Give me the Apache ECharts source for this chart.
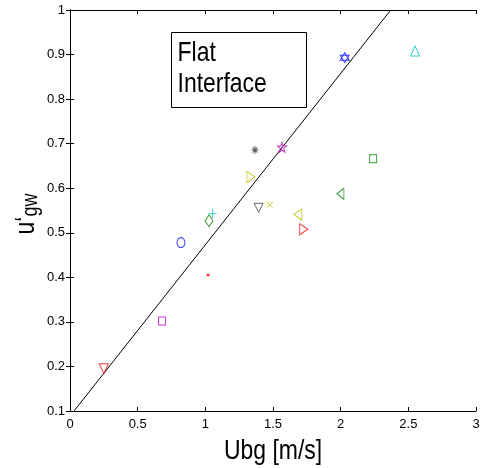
<!DOCTYPE html>
<html>
<head>
<meta charset="utf-8">
<title>Flat Interface</title>
<script src="https://cdn.jsdelivr.net/npm/echarts@6/dist/echarts.min.js"></script>
<style>
  html, body { margin: 0; padding: 0; background: #fff; }
  #chart { width: 480px; height: 468px; }
</style>
</head>
<body>
<div id="chart"></div>
<script>
// Measured runs: background velocity vs. normalised gas-wall velocity
const ubg = [0.25, 0.68, 1.02, 0.82, 1.027, 1.054, 1.367, 1.567, 1.337, 1.394, 1.476, 1.683, 1.727, 1.998, 2.24, 2.03, 2.55];
const ugw = [0.195, 0.302, 0.405, 0.478, 0.527, 0.5425, 0.686, 0.692, 0.625, 0.556, 0.563, 0.541, 0.508, 0.5875, 0.666, 0.893, 0.908];

// Reference line end points
const lineX = [0.03, 2.37];
const lineY = [0.1, 1.0];

// Axis ticks
const xTicks = [0, 0.5, 1, 1.5, 2, 2.5, 3];
const yTicks = [0.1, 0.2, 0.3, 0.4, 0.5, 0.6, 0.7, 0.8, 0.9, 1];

// Texts
const xTitle = 'Ubg [m/s]';
const yTitleMain = 'u\u2018';
const yTitleSub = 'gw';
const noteLines = ['Flat', 'Interface'];

// Marker shapes (outline paths)
const SYM = {
  up: 'path://M5,0 L10,10 L0,10 Z',
  down: 'path://M0,0 L10,0 L5,10 Z',
  left: 'path://M0,5 L10,0 L10,10 Z',
  right: 'path://M0,0 L10,5 L0,10 Z',
  plus: 'path://M5,0 L5,10 M0,5 L10,5',
  cross: 'path://M0,0 L10,10 M10,0 L0,10',
  star: 'path://M5,0 L5,10 M0,5 L10,5 M1.5,1.5 L8.5,8.5 M8.5,1.5 L1.5,8.5',
  pentagram: 'path://M5,0 L6.18,3.62 L10,3.62 L6.91,5.86 L8.09,9.51 L5,7.27 L1.91,9.51 L3.09,5.86 L0,3.62 L3.82,3.62 Z',
  hexagram: 'path://M5,0 L9.33,7.5 L0.67,7.5 Z M5,10 L0.67,2.5 L9.33,2.5 Z',
  square: 'rect',
  circle: 'circle',
  diamond: 'diamond',
  dot: 'circle'
};

const C = {
  r: '#ff0000', g: '#008000', b: '#0000ff', c: '#00bfbf',
  m: '#bf00bf', y: '#bfbf00', k: '#404040'
};

// One style per point: [shape, colour, width, height]
const markerStyles = [
  ['down', C.r, 9, 10],
  ['square', C.m, 7, 8],
  ['dot', C.r, 3, 3],
  ['circle', C.b, 8, 10],
  ['diamond', C.g, 8, 12],
  ['plus', C.c, 8, 9],
  ['star', C.k, 7, 8],
  ['pentagram', C.m, 9, 10],
  ['right', C.y, 8, 11],
  ['down', C.k, 9, 9],
  ['cross', C.y, 6, 6],
  ['left', C.y, 8, 11],
  ['right', C.r, 8, 11],
  ['left', C.g, 7, 11],
  ['square', C.g, 7, 8],
  ['hexagram', C.b, 9, 10],
  ['up', C.c, 9, 10]
];

const FONT = "'Liberation Sans', Arial, Helvetica, sans-serif";
const NARROW = 0.82; // horizontal squeeze for a condensed Helvetica look

const pointSeries = ubg.map((x, i) => {
  const [shape, color, w, h] = markerStyles[i];
  const filled = shape === 'dot';
  return {
    type: 'scatter',
    data: [[x, ugw[i]]],
    symbol: SYM[shape],
    symbolSize: [w, h],
    silent: true,
    z: 5,
    itemStyle: {
      color: filled ? color : 'rgba(0,0,0,0)',
      borderColor: color,
      borderWidth: filled ? 0 : 1
    }
  };
});

const frameAxis = {
  axisLine: { show: true, lineStyle: { color: '#000', width: 1 } },
  axisTick: { show: true, inside: true, length: 4, lineStyle: { color: '#000' } },
  splitLine: { show: false }
};

const chart = echarts.init(document.getElementById('chart'), null, { renderer: 'canvas' });

chart.setOption({
  animation: false,
  backgroundColor: '#fff',
  textStyle: { fontFamily: FONT, color: '#000' },
  grid: { left: 70, top: 10, width: 406, height: 401, containLabel: false, outerBoundsMode: 'none' },
  xAxis: [
    Object.assign({}, frameAxis, {
      type: 'value', min: xTicks[0], max: xTicks[xTicks.length - 1], interval: 0.5,
      position: 'bottom',
      axisLabel: { fontSize: 13, color: '#000', fontFamily: FONT, margin: 7 }
    }),
    Object.assign({}, frameAxis, {
      type: 'value', min: xTicks[0], max: xTicks[xTicks.length - 1], interval: 0.5,
      position: 'top', axisLabel: { show: false }
    })
  ],
  yAxis: [
    Object.assign({}, frameAxis, {
      type: 'value', min: yTicks[0], max: yTicks[yTicks.length - 1], interval: 0.1,
      position: 'left',
      axisLabel: { fontSize: 13, color: '#000', fontFamily: FONT, margin: 5 }
    }),
    Object.assign({}, frameAxis, {
      type: 'value', min: yTicks[0], max: yTicks[yTicks.length - 1], interval: 0.1,
      position: 'right', axisLabel: { show: false }
    })
  ],
  graphic: [
    // x axis title
    {
      type: 'text', x: 273, y: 437, scaleX: NARROW, z: 11,
      style: { text: xTitle, font: '28px ' + FONT, fill: '#000', align: 'center', verticalAlign: 'top' }
    },
    // y axis title with subscript, reading bottom to top
    {
      type: 'text', x: 27, y: 214, rotation: Math.PI / 2, scaleX: NARROW, z: 11,
      style: {
        text: '{a|' + yTitleMain + '}{s|' + yTitleSub + '}',
        align: 'center', verticalAlign: 'middle', fill: '#000',
        rich: {
          a: { fontSize: 28, lineHeight: 30, verticalAlign: 'top', fontFamily: FONT, fill: '#000' },
          s: { fontSize: 22, lineHeight: 22, verticalAlign: 'bottom', fontFamily: FONT, fill: '#000' }
        },
        lineHeight: 42
      }
    },
    // annotation box
    {
      type: 'rect',
      shape: { x: 171.5, y: 32.5, width: 135, height: 75 },
      style: { fill: '#fff', stroke: '#000', lineWidth: 1 },
      z: 10
    },
    {
      type: 'text', x: 177.5, y: 39, scaleX: NARROW, z: 11,
      style: { text: noteLines[0], font: '28px ' + FONT, fill: '#000', align: 'left', verticalAlign: 'top' }
    },
    {
      type: 'text', x: 177.5, y: 70, scaleX: NARROW, z: 11,
      style: { text: noteLines[1], font: '28px ' + FONT, fill: '#000', align: 'left', verticalAlign: 'top' }
    }
  ],
  series: [
    {
      type: 'line',
      data: lineX.map((x, i) => [x, lineY[i]]),
      symbol: 'none',
      silent: true,
      lineStyle: { color: '#000', width: 1 },
      z: 3
    }
  ].concat(pointSeries)
});
</script>
</body>
</html>
